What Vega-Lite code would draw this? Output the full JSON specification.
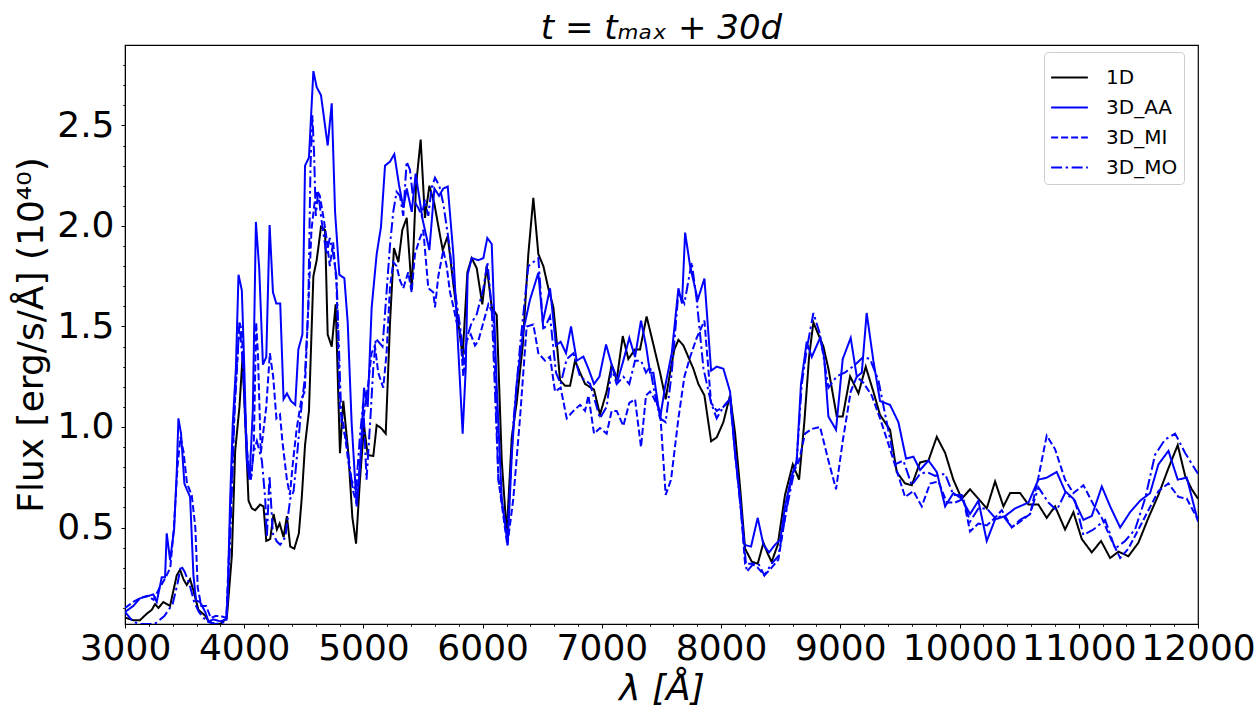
{
"$schema":"https://vega.github.io/schema/vega-lite/v6.json",
"width":1073,"height":579,
"autosize":{"type":"none"},
"padding":{"left":125,"top":45,"right":57,"bottom":83},
"background":"white",
"config":{"font":"DejaVu Sans","view":{"stroke":"black","strokeWidth":1.2}},
"title":{"text":"t = tₘₐₓ + 30d","fontSize":34,"fontStyle":"italic","fontWeight":"normal","baseline":"alphabetic","offset":0,"dy":28,"color":"black","font":"DejaVu Sans"},
"data":{"values":[
{"m":"1D","w":3000,"f":0.052},{"m":"1D","w":3070,"f":0.039},{"m":"1D","w":3126,"f":0.039},{"m":"1D","w":3182,"f":0.071},{"m":"1D","w":3224,"f":0.09},{"m":"1D","w":3252,"f":0.119},{"m":"1D","w":3280,"f":0.1},{"m":"1D","w":3322,"f":0.129},{"m":"1D","w":3378,"f":0.11},{"m":"1D","w":3406,"f":0.186},{"m":"1D","w":3434,"f":0.262},{"m":"1D","w":3462,"f":0.29},{"m":"1D","w":3490,"f":0.243},{"m":"1D","w":3518,"f":0.214},{"m":"1D","w":3546,"f":0.243},{"m":"1D","w":3574,"f":0.186},{"m":"1D","w":3616,"f":0.09},{"m":"1D","w":3672,"f":0.062},{"m":"1D","w":3700,"f":0.033},{"m":"1D","w":3750,"f":0.02},{"m":"1D","w":3800,"f":0.02},{"m":"1D","w":3854,"f":0.05},{"m":"1D","w":3896,"f":0.357},{"m":"1D","w":3924,"f":0.88},{"m":"1D","w":3960,"f":1.1},{"m":"1D","w":3986,"f":1.35},{"m":"1D","w":4036,"f":0.633},{"m":"1D","w":4064,"f":0.595},{"m":"1D","w":4092,"f":0.586},{"m":"1D","w":4134,"f":0.614},{"m":"1D","w":4162,"f":0.605},{"m":"1D","w":4185,"f":0.433},{"m":"1D","w":4218,"f":0.443},{"m":"1D","w":4246,"f":0.567},{"m":"1D","w":4274,"f":0.49},{"m":"1D","w":4297,"f":0.52},{"m":"1D","w":4330,"f":0.452},{"m":"1D","w":4358,"f":0.557},{"m":"1D","w":4386,"f":0.405},{"m":"1D","w":4420,"f":0.395},{"m":"1D","w":4458,"f":0.47},{"m":"1D","w":4482,"f":0.643},{"m":"1D","w":4510,"f":0.91},{"m":"1D","w":4543,"f":1.08},{"m":"1D","w":4580,"f":1.75},{"m":"1D","w":4608,"f":1.83},{"m":"1D","w":4644,"f":1.995},{"m":"1D","w":4678,"f":1.98},{"m":"1D","w":4700,"f":1.46},{"m":"1D","w":4734,"f":1.4},{"m":"1D","w":4767,"f":1.61},{"m":"1D","w":4803,"f":0.87},{"m":"1D","w":4831,"f":1.13},{"m":"1D","w":4873,"f":0.87},{"m":"1D","w":4907,"f":0.55},{"m":"1D","w":4938,"f":0.42},{"m":"1D","w":4971,"f":0.74},{"m":"1D","w":5005,"f":1.005},{"m":"1D","w":5036,"f":0.86},{"m":"1D","w":5083,"f":0.856},{"m":"1D","w":5111,"f":1.01},{"m":"1D","w":5147,"f":0.995},{"m":"1D","w":5187,"f":0.967},{"m":"1D","w":5223,"f":1.52},{"m":"1D","w":5256,"f":1.89},{"m":"1D","w":5293,"f":1.82},{"m":"1D","w":5326,"f":1.98},{"m":"1D","w":5363,"f":2.04},{"m":"1D","w":5405,"f":1.68},{"m":"1D","w":5441,"f":2.2},{"m":"1D","w":5480,"f":2.43},{"m":"1D","w":5516,"f":2.04},{"m":"1D","w":5553,"f":2.2},{"m":"1D","w":5595,"f":2.11},{"m":"1D","w":5628,"f":2.0},{"m":"1D","w":5665,"f":1.88},{"m":"1D","w":5707,"f":1.95},{"m":"1D","w":5754,"f":1.71},{"m":"1D","w":5804,"f":1.48},{"m":"1D","w":5832,"f":1.35},{"m":"1D","w":5872,"f":1.77},{"m":"1D","w":5908,"f":1.84},{"m":"1D","w":5950,"f":1.79},{"m":"1D","w":5997,"f":1.61},{"m":"1D","w":6034,"f":1.8},{"m":"1D","w":6076,"f":1.595},{"m":"1D","w":6118,"f":1.557},{"m":"1D","w":6160,"f":0.833},{"m":"1D","w":6202,"f":0.471},{"m":"1D","w":6244,"f":0.948},{"m":"1D","w":6285,"f":1.12},{"m":"1D","w":6336,"f":1.405},{"m":"1D","w":6383,"f":1.86},{"m":"1D","w":6425,"f":2.14},{"m":"1D","w":6467,"f":1.86},{"m":"1D","w":6509,"f":1.8},{"m":"1D","w":6551,"f":1.69},{"m":"1D","w":6593,"f":1.595},{"m":"1D","w":6621,"f":1.424},{"m":"1D","w":6649,"f":1.233},{"m":"1D","w":6691,"f":1.205},{"m":"1D","w":6733,"f":1.205},{"m":"1D","w":6775,"f":1.33},{"m":"1D","w":6817,"f":1.27},{"m":"1D","w":6859,"f":1.214},{"m":"1D","w":6934,"f":1.186},{"m":"1D","w":6984,"f":1.062},{"m":"1D","w":7040,"f":1.176},{"m":"1D","w":7082,"f":1.31},{"m":"1D","w":7124,"f":1.233},{"m":"1D","w":7175,"f":1.452},{"m":"1D","w":7222,"f":1.338},{"m":"1D","w":7278,"f":1.386},{"m":"1D","w":7320,"f":1.386},{"m":"1D","w":7375,"f":1.55},{"m":"1D","w":7432,"f":1.41},{"m":"1D","w":7488,"f":1.27},{"m":"1D","w":7535,"f":1.138},{"m":"1D","w":7572,"f":1.27},{"m":"1D","w":7608,"f":1.386},{"m":"1D","w":7642,"f":1.433},{"m":"1D","w":7684,"f":1.405},{"m":"1D","w":7725,"f":1.348},{"m":"1D","w":7767,"f":1.29},{"m":"1D","w":7809,"f":1.214},{"m":"1D","w":7860,"f":1.157},{"m":"1D","w":7916,"f":0.929},{"m":"1D","w":7963,"f":0.948},{"m":"1D","w":8019,"f":1.024},{"m":"1D","w":8075,"f":1.157},{"m":"1D","w":8117,"f":0.97},{"m":"1D","w":8159,"f":0.7},{"m":"1D","w":8201,"f":0.395},{"m":"1D","w":8257,"f":0.33},{"m":"1D","w":8307,"f":0.32},{"m":"1D","w":8355,"f":0.424},{"m":"1D","w":8391,"f":0.37},{"m":"1D","w":8424,"f":0.329},{"m":"1D","w":8475,"f":0.414},{"m":"1D","w":8536,"f":0.662},{"m":"1D","w":8601,"f":0.814},{"m":"1D","w":8654,"f":0.738},{"m":"1D","w":8698,"f":1.024},{"m":"1D","w":8738,"f":1.35},{"m":"1D","w":8774,"f":1.52},{"m":"1D","w":8816,"f":1.46},{"m":"1D","w":8858,"f":1.4},{"m":"1D","w":8900,"f":1.29},{"m":"1D","w":8970,"f":1.052},{"m":"1D","w":9020,"f":1.052},{"m":"1D","w":9082,"f":1.252},{"m":"1D","w":9152,"f":1.167},{"m":"1D","w":9213,"f":1.3},{"m":"1D","w":9277,"f":1.176},{"m":"1D","w":9333,"f":1.06},{"m":"1D","w":9417,"f":0.986},{"m":"1D","w":9473,"f":0.776},{"m":"1D","w":9543,"f":0.719},{"m":"1D","w":9599,"f":0.71},{"m":"1D","w":9669,"f":0.824},{"m":"1D","w":9739,"f":0.833},{"m":"1D","w":9809,"f":0.951},{"m":"1D","w":9879,"f":0.871},{"m":"1D","w":9948,"f":0.738},{"m":"1D","w":10018,"f":0.643},{"m":"1D","w":10088,"f":0.69},{"m":"1D","w":10158,"f":0.643},{"m":"1D","w":10228,"f":0.595},{"m":"1D","w":10298,"f":0.729},{"m":"1D","w":10368,"f":0.605},{"m":"1D","w":10424,"f":0.671},{"m":"1D","w":10508,"f":0.671},{"m":"1D","w":10578,"f":0.614},{"m":"1D","w":10661,"f":0.614},{"m":"1D","w":10731,"f":0.548},{"m":"1D","w":10801,"f":0.605},{"m":"1D","w":10885,"f":0.49},{"m":"1D","w":10955,"f":0.576},{"m":"1D","w":11025,"f":0.443},{"m":"1D","w":11109,"f":0.376},{"m":"1D","w":11187,"f":0.433},{"m":"1D","w":11263,"f":0.348},{"m":"1D","w":11333,"f":0.38},{"m":"1D","w":11416,"f":0.357},{"m":"1D","w":11500,"f":0.424},{"m":"1D","w":11584,"f":0.548},{"m":"1D","w":11668,"f":0.662},{"m":"1D","w":11752,"f":0.795},{"m":"1D","w":11830,"f":0.91},{"m":"1D","w":11892,"f":0.757},{"m":"1D","w":11948,"f":0.69},{"m":"1D","w":12000,"f":0.643},
{"m":"3D_AA","w":3000,"f":0.08},{"m":"3D_AA","w":3070,"f":0.11},{"m":"3D_AA","w":3126,"f":0.148},{"m":"3D_AA","w":3182,"f":0.157},{"m":"3D_AA","w":3238,"f":0.167},{"m":"3D_AA","w":3266,"f":0.129},{"m":"3D_AA","w":3308,"f":0.252},{"m":"3D_AA","w":3336,"f":0.252},{"m":"3D_AA","w":3350,"f":0.471},{"m":"3D_AA","w":3378,"f":0.338},{"m":"3D_AA","w":3412,"f":0.49},{"m":"3D_AA","w":3434,"f":0.776},{"m":"3D_AA","w":3448,"f":1.043},{"m":"3D_AA","w":3470,"f":0.967},{"m":"3D_AA","w":3498,"f":0.719},{"m":"3D_AA","w":3518,"f":0.69},{"m":"3D_AA","w":3546,"f":0.652},{"m":"3D_AA","w":3574,"f":0.262},{"m":"3D_AA","w":3596,"f":0.138},{"m":"3D_AA","w":3630,"f":0.129},{"m":"3D_AA","w":3672,"f":0.081},{"m":"3D_AA","w":3700,"f":0.033},{"m":"3D_AA","w":3742,"f":0.043},{"m":"3D_AA","w":3798,"f":0.033},{"m":"3D_AA","w":3848,"f":0.043},{"m":"3D_AA","w":3860,"f":0.13},{"m":"3D_AA","w":3882,"f":0.64},{"m":"3D_AA","w":3904,"f":1.02},{"m":"3D_AA","w":3930,"f":1.29},{"m":"3D_AA","w":3952,"f":1.757},{"m":"3D_AA","w":3980,"f":1.68},{"m":"3D_AA","w":4000,"f":1.31},{"m":"3D_AA","w":4022,"f":0.833},{"m":"3D_AA","w":4044,"f":0.738},{"m":"3D_AA","w":4072,"f":1.08},{"m":"3D_AA","w":4098,"f":2.02},{"m":"3D_AA","w":4126,"f":1.786},{"m":"3D_AA","w":4157,"f":1.31},{"m":"3D_AA","w":4185,"f":1.348},{"m":"3D_AA","w":4213,"f":2.005},{"m":"3D_AA","w":4241,"f":1.67},{"m":"3D_AA","w":4269,"f":1.614},{"m":"3D_AA","w":4302,"f":1.614},{"m":"3D_AA","w":4330,"f":1.138},{"m":"3D_AA","w":4358,"f":1.167},{"m":"3D_AA","w":4392,"f":1.129},{"m":"3D_AA","w":4428,"f":1.11},{"m":"3D_AA","w":4454,"f":1.386},{"m":"3D_AA","w":4488,"f":1.46},{"m":"3D_AA","w":4510,"f":2.3},{"m":"3D_AA","w":4543,"f":2.34},{"m":"3D_AA","w":4580,"f":2.77},{"m":"3D_AA","w":4608,"f":2.69},{"m":"3D_AA","w":4644,"f":2.65},{"m":"3D_AA","w":4700,"f":2.4},{"m":"3D_AA","w":4734,"f":2.61},{"m":"3D_AA","w":4762,"f":2.07},{"m":"3D_AA","w":4798,"f":1.757},{"m":"3D_AA","w":4840,"f":1.74},{"m":"3D_AA","w":4868,"f":1.52},{"m":"3D_AA","w":4901,"f":1.02},{"m":"3D_AA","w":4943,"f":0.605},{"m":"3D_AA","w":4971,"f":0.795},{"m":"3D_AA","w":5005,"f":1.195},{"m":"3D_AA","w":5036,"f":1.1},{"m":"3D_AA","w":5069,"f":1.595},{"m":"3D_AA","w":5111,"f":1.86},{"m":"3D_AA","w":5147,"f":1.995},{"m":"3D_AA","w":5181,"f":2.3},{"m":"3D_AA","w":5223,"f":2.32},{"m":"3D_AA","w":5259,"f":2.357},{"m":"3D_AA","w":5298,"f":2.205},{"m":"3D_AA","w":5335,"f":2.09},{"m":"3D_AA","w":5363,"f":2.186},{"m":"3D_AA","w":5405,"f":2.07},{"m":"3D_AA","w":5438,"f":2.26},{"m":"3D_AA","w":5497,"f":2.03},{"m":"3D_AA","w":5553,"f":1.88},{"m":"3D_AA","w":5595,"f":2.186},{"m":"3D_AA","w":5634,"f":2.15},{"m":"3D_AA","w":5670,"f":2.186},{"m":"3D_AA","w":5707,"f":2.196},{"m":"3D_AA","w":5754,"f":1.86},{"m":"3D_AA","w":5832,"f":0.967},{"m":"3D_AA","w":5858,"f":1.29},{"m":"3D_AA","w":5874,"f":1.757},{"m":"3D_AA","w":5908,"f":1.84},{"m":"3D_AA","w":5964,"f":1.83},{"m":"3D_AA","w":6006,"f":1.84},{"m":"3D_AA","w":6039,"f":1.94},{"m":"3D_AA","w":6076,"f":1.91},{"m":"3D_AA","w":6118,"f":1.2},{"m":"3D_AA","w":6160,"f":0.643},{"m":"3D_AA","w":6210,"f":0.414},{"m":"3D_AA","w":6244,"f":0.86},{"m":"3D_AA","w":6285,"f":1.214},{"m":"3D_AA","w":6341,"f":1.48},{"m":"3D_AA","w":6397,"f":1.633},{"m":"3D_AA","w":6467,"f":1.767},{"m":"3D_AA","w":6504,"f":1.52},{"m":"3D_AA","w":6565,"f":1.69},{"m":"3D_AA","w":6615,"f":1.405},{"m":"3D_AA","w":6654,"f":1.424},{"m":"3D_AA","w":6699,"f":1.367},{"m":"3D_AA","w":6741,"f":1.5},{"m":"3D_AA","w":6789,"f":1.33},{"m":"3D_AA","w":6845,"f":1.35},{"m":"3D_AA","w":6887,"f":1.29},{"m":"3D_AA","w":6934,"f":1.214},{"m":"3D_AA","w":6979,"f":1.25},{"m":"3D_AA","w":7035,"f":1.41},{"m":"3D_AA","w":7082,"f":1.31},{"m":"3D_AA","w":7133,"f":1.233},{"m":"3D_AA","w":7180,"f":1.33},{"m":"3D_AA","w":7230,"f":1.443},{"m":"3D_AA","w":7278,"f":1.348},{"m":"3D_AA","w":7328,"f":1.529},{"m":"3D_AA","w":7370,"f":1.405},{"m":"3D_AA","w":7404,"f":1.27},{"m":"3D_AA","w":7432,"f":1.27},{"m":"3D_AA","w":7488,"f":1.043},{"m":"3D_AA","w":7530,"f":1.2},{"m":"3D_AA","w":7586,"f":1.367},{"m":"3D_AA","w":7642,"f":1.69},{"m":"3D_AA","w":7672,"f":1.614},{"m":"3D_AA","w":7698,"f":1.967},{"m":"3D_AA","w":7740,"f":1.8},{"m":"3D_AA","w":7804,"f":1.633},{"m":"3D_AA","w":7860,"f":1.738},{"m":"3D_AA","w":7916,"f":1.28},{"m":"3D_AA","w":7963,"f":1.3},{"m":"3D_AA","w":8019,"f":1.29},{"m":"3D_AA","w":8075,"f":1.176},{"m":"3D_AA","w":8117,"f":0.871},{"m":"3D_AA","w":8159,"f":0.64},{"m":"3D_AA","w":8195,"f":0.414},{"m":"3D_AA","w":8251,"f":0.405},{"m":"3D_AA","w":8307,"f":0.548},{"m":"3D_AA","w":8355,"f":0.414},{"m":"3D_AA","w":8402,"f":0.376},{"m":"3D_AA","w":8452,"f":0.414},{"m":"3D_AA","w":8497,"f":0.44},{"m":"3D_AA","w":8536,"f":0.605},{"m":"3D_AA","w":8592,"f":0.757},{"m":"3D_AA","w":8634,"f":0.83},{"m":"3D_AA","w":8670,"f":1.214},{"m":"3D_AA","w":8718,"f":1.424},{"m":"3D_AA","w":8760,"f":1.348},{"m":"3D_AA","w":8830,"f":1.443},{"m":"3D_AA","w":8864,"f":1.348},{"m":"3D_AA","w":8900,"f":1.052},{"m":"3D_AA","w":8964,"f":0.986},{"m":"3D_AA","w":9020,"f":1.338},{"m":"3D_AA","w":9087,"f":1.443},{"m":"3D_AA","w":9138,"f":1.25},{"m":"3D_AA","w":9180,"f":1.27},{"m":"3D_AA","w":9221,"f":1.567},{"m":"3D_AA","w":9277,"f":1.33},{"m":"3D_AA","w":9333,"f":1.129},{"m":"3D_AA","w":9417,"f":1.11},{"m":"3D_AA","w":9487,"f":1.024},{"m":"3D_AA","w":9551,"f":0.843},{"m":"3D_AA","w":9613,"f":0.852},{"m":"3D_AA","w":9669,"f":0.786},{"m":"3D_AA","w":9739,"f":0.833},{"m":"3D_AA","w":9809,"f":0.776},{"m":"3D_AA","w":9879,"f":0.605},{"m":"3D_AA","w":9948,"f":0.671},{"m":"3D_AA","w":10018,"f":0.643},{"m":"3D_AA","w":10088,"f":0.567},{"m":"3D_AA","w":10158,"f":0.633},{"m":"3D_AA","w":10228,"f":0.433},{"m":"3D_AA","w":10298,"f":0.54},{"m":"3D_AA","w":10382,"f":0.557},{"m":"3D_AA","w":10466,"f":0.595},{"m":"3D_AA","w":10578,"f":0.624},{"m":"3D_AA","w":10661,"f":0.738},{"m":"3D_AA","w":10731,"f":0.748},{"m":"3D_AA","w":10815,"f":0.776},{"m":"3D_AA","w":10885,"f":0.681},{"m":"3D_AA","w":10955,"f":0.643},{"m":"3D_AA","w":11039,"f":0.538},{"m":"3D_AA","w":11109,"f":0.557},{"m":"3D_AA","w":11193,"f":0.704},{"m":"3D_AA","w":11263,"f":0.605},{"m":"3D_AA","w":11347,"f":0.5},{"m":"3D_AA","w":11430,"f":0.576},{"m":"3D_AA","w":11514,"f":0.633},{"m":"3D_AA","w":11598,"f":0.671},{"m":"3D_AA","w":11668,"f":0.814},{"m":"3D_AA","w":11752,"f":0.881},{"m":"3D_AA","w":11830,"f":0.738},{"m":"3D_AA","w":11906,"f":0.748},{"m":"3D_AA","w":12000,"f":0.529},
{"m":"3D_MI","w":3000,"f":0.1},{"m":"3D_MI","w":3070,"f":0.13},{"m":"3D_MI","w":3130,"f":0.15},{"m":"3D_MI","w":3190,"f":0.16},{"m":"3D_MI","w":3240,"f":0.14},{"m":"3D_MI","w":3290,"f":0.2},{"m":"3D_MI","w":3340,"f":0.25},{"m":"3D_MI","w":3380,"f":0.3},{"m":"3D_MI","w":3410,"f":0.5},{"m":"3D_MI","w":3440,"f":0.8},{"m":"3D_MI","w":3465,"f":0.95},{"m":"3D_MI","w":3490,"f":0.88},{"m":"3D_MI","w":3520,"f":0.72},{"m":"3D_MI","w":3560,"f":0.66},{"m":"3D_MI","w":3590,"f":0.5},{"m":"3D_MI","w":3610,"f":0.2},{"m":"3D_MI","w":3640,"f":0.11},{"m":"3D_MI","w":3680,"f":0.11},{"m":"3D_MI","w":3720,"f":0.05},{"m":"3D_MI","w":3760,"f":0.06},{"m":"3D_MI","w":3800,"f":0.06},{"m":"3D_MI","w":3850,"f":0.05},{"m":"3D_MI","w":3880,"f":0.5},{"m":"3D_MI","w":3920,"f":1.1},{"m":"3D_MI","w":3960,"f":1.52},{"m":"3D_MI","w":3980,"f":1.48},{"m":"3D_MI","w":4010,"f":1.0},{"m":"3D_MI","w":4036,"f":0.795},{"m":"3D_MI","w":4060,"f":0.757},{"m":"3D_MI","w":4080,"f":0.9},{"m":"3D_MI","w":4100,"f":1.52},{"m":"3D_MI","w":4115,"f":1.367},{"m":"3D_MI","w":4139,"f":0.87},{"m":"3D_MI","w":4185,"f":1.1},{"m":"3D_MI","w":4215,"f":1.367},{"m":"3D_MI","w":4243,"f":1.25},{"m":"3D_MI","w":4270,"f":1.043},{"m":"3D_MI","w":4300,"f":1.062},{"m":"3D_MI","w":4320,"f":0.93},{"m":"3D_MI","w":4358,"f":0.738},{"m":"3D_MI","w":4383,"f":0.662},{"m":"3D_MI","w":4410,"f":0.833},{"m":"3D_MI","w":4439,"f":0.986},{"m":"3D_MI","w":4480,"f":1.14},{"m":"3D_MI","w":4508,"f":1.176},{"m":"3D_MI","w":4537,"f":1.595},{"m":"3D_MI","w":4564,"f":1.98},{"m":"3D_MI","w":4593,"f":2.13},{"m":"3D_MI","w":4612,"f":2.176},{"m":"3D_MI","w":4634,"f":2.15},{"m":"3D_MI","w":4668,"f":2.03},{"m":"3D_MI","w":4690,"f":1.94},{"m":"3D_MI","w":4718,"f":1.8},{"m":"3D_MI","w":4746,"f":1.92},{"m":"3D_MI","w":4774,"f":1.71},{"m":"3D_MI","w":4802,"f":1.1},{"m":"3D_MI","w":4830,"f":1.024},{"m":"3D_MI","w":4872,"f":0.833},{"m":"3D_MI","w":4914,"f":0.68},{"m":"3D_MI","w":4942,"f":0.62},{"m":"3D_MI","w":4970,"f":0.814},{"m":"3D_MI","w":5004,"f":1.062},{"m":"3D_MI","w":5040,"f":1.214},{"m":"3D_MI","w":5068,"f":1.367},{"m":"3D_MI","w":5096,"f":1.405},{"m":"3D_MI","w":5124,"f":1.27},{"m":"3D_MI","w":5166,"f":1.195},{"m":"3D_MI","w":5194,"f":1.367},{"m":"3D_MI","w":5222,"f":1.69},{"m":"3D_MI","w":5250,"f":1.82},{"m":"3D_MI","w":5278,"f":1.8},{"m":"3D_MI","w":5306,"f":1.73},{"m":"3D_MI","w":5334,"f":1.69},{"m":"3D_MI","w":5376,"f":1.77},{"m":"3D_MI","w":5404,"f":1.67},{"m":"3D_MI","w":5432,"f":1.86},{"m":"3D_MI","w":5474,"f":1.94},{"m":"3D_MI","w":5502,"f":1.98},{"m":"3D_MI","w":5544,"f":1.69},{"m":"3D_MI","w":5586,"f":1.67},{"m":"3D_MI","w":5600,"f":1.595},{"m":"3D_MI","w":5628,"f":1.75},{"m":"3D_MI","w":5670,"f":1.88},{"m":"3D_MI","w":5698,"f":1.8},{"m":"3D_MI","w":5726,"f":1.67},{"m":"3D_MI","w":5754,"f":1.6},{"m":"3D_MI","w":5782,"f":1.52},{"m":"3D_MI","w":5810,"f":1.48},{"m":"3D_MI","w":5838,"f":1.25},{"m":"3D_MI","w":5866,"f":1.43},{"m":"3D_MI","w":5900,"f":1.46},{"m":"3D_MI","w":5936,"f":1.405},{"m":"3D_MI","w":5964,"f":1.43},{"m":"3D_MI","w":6006,"f":1.52},{"m":"3D_MI","w":6048,"f":1.61},{"m":"3D_MI","w":6090,"f":1.56},{"m":"3D_MI","w":6132,"f":0.738},{"m":"3D_MI","w":6207,"f":0.41},{"m":"3D_MI","w":6257,"f":0.643},{"m":"3D_MI","w":6313,"f":1.043},{"m":"3D_MI","w":6369,"f":1.5},{"m":"3D_MI","w":6425,"f":1.51},{"m":"3D_MI","w":6467,"f":1.367},{"m":"3D_MI","w":6523,"f":1.33},{"m":"3D_MI","w":6565,"f":1.35},{"m":"3D_MI","w":6607,"f":1.176},{"m":"3D_MI","w":6654,"f":1.195},{"m":"3D_MI","w":6705,"f":1.043},{"m":"3D_MI","w":6761,"f":1.08},{"m":"3D_MI","w":6817,"f":1.11},{"m":"3D_MI","w":6859,"f":1.08},{"m":"3D_MI","w":6887,"f":1.157},{"m":"3D_MI","w":6934,"f":0.967},{"m":"3D_MI","w":6984,"f":0.995},{"m":"3D_MI","w":7040,"f":0.967},{"m":"3D_MI","w":7082,"f":1.08},{"m":"3D_MI","w":7124,"f":1.08},{"m":"3D_MI","w":7180,"f":1.005},{"m":"3D_MI","w":7230,"f":1.12},{"m":"3D_MI","w":7278,"f":1.138},{"m":"3D_MI","w":7328,"f":0.9},{"m":"3D_MI","w":7370,"f":1.157},{"m":"3D_MI","w":7404,"f":1.176},{"m":"3D_MI","w":7432,"f":1.148},{"m":"3D_MI","w":7488,"f":1.08},{"m":"3D_MI","w":7535,"f":0.662},{"m":"3D_MI","w":7580,"f":0.738},{"m":"3D_MI","w":7642,"f":1.043},{"m":"3D_MI","w":7692,"f":1.25},{"m":"3D_MI","w":7740,"f":1.348},{"m":"3D_MI","w":7795,"f":1.443},{"m":"3D_MI","w":7860,"f":1.529},{"m":"3D_MI","w":7916,"f":1.12},{"m":"3D_MI","w":7963,"f":1.08},{"m":"3D_MI","w":8019,"f":1.1},{"m":"3D_MI","w":8075,"f":1.14},{"m":"3D_MI","w":8117,"f":0.871},{"m":"3D_MI","w":8159,"f":0.64},{"m":"3D_MI","w":8201,"f":0.32},{"m":"3D_MI","w":8257,"f":0.32},{"m":"3D_MI","w":8307,"f":0.3},{"m":"3D_MI","w":8363,"f":0.262},{"m":"3D_MI","w":8424,"f":0.3},{"m":"3D_MI","w":8480,"f":0.34},{"m":"3D_MI","w":8536,"f":0.548},{"m":"3D_MI","w":8592,"f":0.757},{"m":"3D_MI","w":8654,"f":0.833},{"m":"3D_MI","w":8704,"f":0.967},{"m":"3D_MI","w":8760,"f":0.99},{"m":"3D_MI","w":8830,"f":1.0},{"m":"3D_MI","w":8900,"f":0.833},{"m":"3D_MI","w":8964,"f":0.69},{"m":"3D_MI","w":9020,"f":0.929},{"m":"3D_MI","w":9087,"f":1.176},{"m":"3D_MI","w":9138,"f":1.25},{"m":"3D_MI","w":9193,"f":1.22},{"m":"3D_MI","w":9263,"f":1.157},{"m":"3D_MI","w":9333,"f":1.043},{"m":"3D_MI","w":9417,"f":0.89},{"m":"3D_MI","w":9487,"f":0.757},{"m":"3D_MI","w":9543,"f":0.652},{"m":"3D_MI","w":9613,"f":0.681},{"m":"3D_MI","w":9683,"f":0.605},{"m":"3D_MI","w":9753,"f":0.719},{"m":"3D_MI","w":9823,"f":0.729},{"m":"3D_MI","w":9893,"f":0.624},{"m":"3D_MI","w":9963,"f":0.624},{"m":"3D_MI","w":10032,"f":0.643},{"m":"3D_MI","w":10088,"f":0.48},{"m":"3D_MI","w":10158,"f":0.52},{"m":"3D_MI","w":10228,"f":0.51},{"m":"3D_MI","w":10298,"f":0.548},{"m":"3D_MI","w":10354,"f":0.586},{"m":"3D_MI","w":10438,"f":0.5},{"m":"3D_MI","w":10508,"f":0.529},{"m":"3D_MI","w":10592,"f":0.567},{"m":"3D_MI","w":10661,"f":0.748},{"m":"3D_MI","w":10731,"f":0.957},{"m":"3D_MI","w":10801,"f":0.89},{"m":"3D_MI","w":10885,"f":0.738},{"m":"3D_MI","w":10955,"f":0.671},{"m":"3D_MI","w":11039,"f":0.71},{"m":"3D_MI","w":11123,"f":0.614},{"m":"3D_MI","w":11193,"f":0.548},{"m":"3D_MI","w":11263,"f":0.452},{"m":"3D_MI","w":11347,"f":0.348},{"m":"3D_MI","w":11416,"f":0.395},{"m":"3D_MI","w":11500,"f":0.49},{"m":"3D_MI","w":11584,"f":0.586},{"m":"3D_MI","w":11668,"f":0.681},{"m":"3D_MI","w":11752,"f":0.719},{"m":"3D_MI","w":11836,"f":0.652},{"m":"3D_MI","w":11906,"f":0.643},{"m":"3D_MI","w":12000,"f":0.538},
{"m":"3D_MO","w":3000,"f":0.08},{"m":"3D_MO","w":3070,"f":0.03},{"m":"3D_MO","w":3130,"f":0.02},{"m":"3D_MO","w":3250,"f":0.02},{"m":"3D_MO","w":3330,"f":0.06},{"m":"3D_MO","w":3400,"f":0.12},{"m":"3D_MO","w":3440,"f":0.22},{"m":"3D_MO","w":3470,"f":0.31},{"m":"3D_MO","w":3500,"f":0.28},{"m":"3D_MO","w":3540,"f":0.22},{"m":"3D_MO","w":3580,"f":0.13},{"m":"3D_MO","w":3620,"f":0.08},{"m":"3D_MO","w":3660,"f":0.05},{"m":"3D_MO","w":3700,"f":0.03},{"m":"3D_MO","w":3760,"f":0.02},{"m":"3D_MO","w":3850,"f":0.03},{"m":"3D_MO","w":3880,"f":0.4},{"m":"3D_MO","w":3920,"f":1.1},{"m":"3D_MO","w":3960,"f":1.52},{"m":"3D_MO","w":3990,"f":1.3},{"m":"3D_MO","w":4028,"f":0.833},{"m":"3D_MO","w":4056,"f":0.738},{"m":"3D_MO","w":4078,"f":0.871},{"m":"3D_MO","w":4106,"f":0.93},{"m":"3D_MO","w":4148,"f":0.833},{"m":"3D_MO","w":4176,"f":0.643},{"m":"3D_MO","w":4190,"f":0.45},{"m":"3D_MO","w":4212,"f":0.757},{"m":"3D_MO","w":4240,"f":0.47},{"m":"3D_MO","w":4274,"f":0.43},{"m":"3D_MO","w":4302,"f":0.414},{"m":"3D_MO","w":4344,"f":0.452},{"m":"3D_MO","w":4386,"f":0.643},{"m":"3D_MO","w":4414,"f":0.68},{"m":"3D_MO","w":4439,"f":0.833},{"m":"3D_MO","w":4480,"f":1.1},{"m":"3D_MO","w":4508,"f":1.24},{"m":"3D_MO","w":4537,"f":1.59},{"m":"3D_MO","w":4556,"f":2.3},{"m":"3D_MO","w":4572,"f":2.55},{"m":"3D_MO","w":4586,"f":2.36},{"m":"3D_MO","w":4600,"f":2.05},{"m":"3D_MO","w":4620,"f":2.17},{"m":"3D_MO","w":4648,"f":2.03},{"m":"3D_MO","w":4690,"f":1.86},{"m":"3D_MO","w":4718,"f":1.94},{"m":"3D_MO","w":4746,"f":1.86},{"m":"3D_MO","w":4774,"f":1.75},{"m":"3D_MO","w":4816,"f":1.02},{"m":"3D_MO","w":4858,"f":0.93},{"m":"3D_MO","w":4900,"f":0.738},{"m":"3D_MO","w":4937,"f":0.68},{"m":"3D_MO","w":4970,"f":0.95},{"m":"3D_MO","w":4998,"f":1.12},{"m":"3D_MO","w":5026,"f":0.738},{"m":"3D_MO","w":5060,"f":1.06},{"m":"3D_MO","w":5082,"f":1.29},{"m":"3D_MO","w":5104,"f":1.44},{"m":"3D_MO","w":5132,"f":1.42},{"m":"3D_MO","w":5160,"f":1.4},{"m":"3D_MO","w":5194,"f":1.67},{"m":"3D_MO","w":5222,"f":1.9},{"m":"3D_MO","w":5250,"f":2.07},{"m":"3D_MO","w":5278,"f":2.17},{"m":"3D_MO","w":5306,"f":2.15},{"m":"3D_MO","w":5334,"f":2.05},{"m":"3D_MO","w":5362,"f":2.32},{"m":"3D_MO","w":5390,"f":2.28},{"m":"3D_MO","w":5418,"f":2.13},{"m":"3D_MO","w":5460,"f":2.09},{"m":"3D_MO","w":5488,"f":2.05},{"m":"3D_MO","w":5516,"f":2.13},{"m":"3D_MO","w":5544,"f":2.05},{"m":"3D_MO","w":5572,"f":2.19},{"m":"3D_MO","w":5600,"f":2.24},{"m":"3D_MO","w":5636,"f":2.2},{"m":"3D_MO","w":5670,"f":2.11},{"m":"3D_MO","w":5712,"f":1.94},{"m":"3D_MO","w":5754,"f":1.73},{"m":"3D_MO","w":5796,"f":1.56},{"m":"3D_MO","w":5824,"f":1.44},{"m":"3D_MO","w":5838,"f":1.31},{"m":"3D_MO","w":5866,"f":1.44},{"m":"3D_MO","w":5908,"f":1.52},{"m":"3D_MO","w":5950,"f":1.56},{"m":"3D_MO","w":6006,"f":1.69},{"m":"3D_MO","w":6040,"f":1.82},{"m":"3D_MO","w":6076,"f":1.59},{"m":"3D_MO","w":6132,"f":0.74},{"m":"3D_MO","w":6207,"f":0.45},{"m":"3D_MO","w":6257,"f":1.02},{"m":"3D_MO","w":6313,"f":1.4},{"m":"3D_MO","w":6383,"f":1.8},{"m":"3D_MO","w":6467,"f":1.84},{"m":"3D_MO","w":6509,"f":1.48},{"m":"3D_MO","w":6565,"f":1.55},{"m":"3D_MO","w":6615,"f":1.27},{"m":"3D_MO","w":6654,"f":1.214},{"m":"3D_MO","w":6705,"f":1.338},{"m":"3D_MO","w":6761,"f":1.367},{"m":"3D_MO","w":6817,"f":1.25},{"m":"3D_MO","w":6859,"f":1.233},{"m":"3D_MO","w":6901,"f":1.214},{"m":"3D_MO","w":6984,"f":1.043},{"m":"3D_MO","w":7040,"f":1.1},{"m":"3D_MO","w":7082,"f":1.29},{"m":"3D_MO","w":7124,"f":1.214},{"m":"3D_MO","w":7180,"f":1.25},{"m":"3D_MO","w":7230,"f":1.214},{"m":"3D_MO","w":7278,"f":1.33},{"m":"3D_MO","w":7328,"f":1.33},{"m":"3D_MO","w":7370,"f":1.27},{"m":"3D_MO","w":7404,"f":1.3},{"m":"3D_MO","w":7432,"f":1.2},{"m":"3D_MO","w":7488,"f":1.043},{"m":"3D_MO","w":7535,"f":1.024},{"m":"3D_MO","w":7586,"f":1.27},{"m":"3D_MO","w":7642,"f":1.67},{"m":"3D_MO","w":7692,"f":1.614},{"m":"3D_MO","w":7753,"f":1.82},{"m":"3D_MO","w":7795,"f":1.633},{"m":"3D_MO","w":7852,"f":1.29},{"m":"3D_MO","w":7916,"f":1.12},{"m":"3D_MO","w":7963,"f":1.043},{"m":"3D_MO","w":8019,"f":1.1},{"m":"3D_MO","w":8075,"f":1.14},{"m":"3D_MO","w":8117,"f":0.871},{"m":"3D_MO","w":8172,"f":0.548},{"m":"3D_MO","w":8215,"f":0.28},{"m":"3D_MO","w":8271,"f":0.32},{"m":"3D_MO","w":8313,"f":0.32},{"m":"3D_MO","w":8363,"f":0.262},{"m":"3D_MO","w":8424,"f":0.32},{"m":"3D_MO","w":8480,"f":0.357},{"m":"3D_MO","w":8536,"f":0.548},{"m":"3D_MO","w":8592,"f":0.719},{"m":"3D_MO","w":8634,"f":0.833},{"m":"3D_MO","w":8676,"f":1.21},{"m":"3D_MO","w":8718,"f":1.386},{"m":"3D_MO","w":8774,"f":1.567},{"m":"3D_MO","w":8830,"f":1.46},{"m":"3D_MO","w":8900,"f":1.195},{"m":"3D_MO","w":8970,"f":1.252},{"m":"3D_MO","w":9040,"f":1.271},{"m":"3D_MO","w":9124,"f":1.31},{"m":"3D_MO","w":9193,"f":1.348},{"m":"3D_MO","w":9249,"f":1.338},{"m":"3D_MO","w":9319,"f":1.233},{"m":"3D_MO","w":9389,"f":1.024},{"m":"3D_MO","w":9459,"f":0.814},{"m":"3D_MO","w":9529,"f":0.833},{"m":"3D_MO","w":9599,"f":0.71},{"m":"3D_MO","w":9669,"f":0.767},{"m":"3D_MO","w":9725,"f":0.776},{"m":"3D_MO","w":9795,"f":0.757},{"m":"3D_MO","w":9879,"f":0.767},{"m":"3D_MO","w":9948,"f":0.662},{"m":"3D_MO","w":10018,"f":0.662},{"m":"3D_MO","w":10088,"f":0.529},{"m":"3D_MO","w":10158,"f":0.595},{"m":"3D_MO","w":10228,"f":0.595},{"m":"3D_MO","w":10298,"f":0.548},{"m":"3D_MO","w":10368,"f":0.557},{"m":"3D_MO","w":10438,"f":0.5},{"m":"3D_MO","w":10508,"f":0.538},{"m":"3D_MO","w":10592,"f":0.567},{"m":"3D_MO","w":10661,"f":0.7},{"m":"3D_MO","w":10745,"f":0.624},{"m":"3D_MO","w":10815,"f":0.586},{"m":"3D_MO","w":10885,"f":0.671},{"m":"3D_MO","w":10969,"f":0.633},{"m":"3D_MO","w":11039,"f":0.462},{"m":"3D_MO","w":11123,"f":0.49},{"m":"3D_MO","w":11221,"f":0.538},{"m":"3D_MO","w":11305,"f":0.395},{"m":"3D_MO","w":11388,"f":0.433},{"m":"3D_MO","w":11472,"f":0.49},{"m":"3D_MO","w":11556,"f":0.643},{"m":"3D_MO","w":11640,"f":0.862},{"m":"3D_MO","w":11724,"f":0.938},{"m":"3D_MO","w":11808,"f":0.967},{"m":"3D_MO","w":11892,"f":0.871},{"m":"3D_MO","w":12000,"f":0.767}
]},
"layer":[
{"transform":[{"filter":"datum.m == '1D'"}],
 "mark":{"type":"line","strokeWidth":2,"clip":true},
 "encoding":{
  "x":{"field":"w","type":"quantitative","scale":{"domain":[3000,12000],"nice":false},
       "axis":{"orient":"bottom","values":[3200,3400,3600,3800,4200,4400,4600,4800,5200,5400,5600,5800,6200,6400,6600,6800,7200,7400,7600,7800,8200,8400,8600,8800,9200,9400,9600,9800,10200,10400,10600,10800,11200,11400,11600,11800],"labels":false,"domain":false,"grid":false,"ticks":true,"tickSize":2.5,"tickColor":"black","tickWidth":0.8,"title":null}},
  "y":{"field":"f","type":"quantitative","scale":{"domain":[0.02,2.9],"nice":false,"zero":false},
       "axis":{"orient":"left","values":[0.1,0.2,0.3,0.4,0.6,0.7,0.8,0.9,1.1,1.2,1.3,1.4,1.6,1.7,1.8,1.9,2.1,2.2,2.3,2.4,2.6,2.7,2.8],"labels":false,"domain":false,"grid":false,"ticks":true,"tickSize":2.5,"tickColor":"black","tickWidth":0.8,"title":null}},
  "color":{"field":"m","type":"nominal","scale":{"domain":["1D","3D_AA","3D_MI","3D_MO"],"range":["#000000","#0000ff","#0000ff","#0000ff"]},
      "legend":{"orient":"none","legendX":919,"legendY":7,"title":null,"symbolType":"stroke","symbolSize":1350,"symbolStrokeWidth":2,"labelFontSize":20,"labelColor":"black","labelFont":"DejaVu Sans","padding":6,"rowPadding":0,"fillColor":"rgba(255,255,255,0.8)","strokeColor":"#cccccc","cornerRadius":4,"labelOffset":17}},
  "strokeDash":{"field":"m","type":"nominal","scale":{"domain":["1D","3D_AA","3D_MI","3D_MO"],"range":[[1,0],[1,0],[7,3],[11,3.5,2.5,3.5]]},
      "legend":{"orient":"none","legendX":919,"legendY":7,"title":null,"symbolType":"stroke","symbolSize":1350,"symbolStrokeWidth":2,"labelFontSize":20,"labelColor":"black","labelFont":"DejaVu Sans","padding":6,"rowPadding":0,"fillColor":"rgba(255,255,255,0.8)","strokeColor":"#cccccc","cornerRadius":4,"labelOffset":17}}
 }},
{"transform":[{"filter":"datum.m != '1D'"}],
 "mark":{"type":"line","strokeWidth":2,"clip":true},
 "encoding":{
  "x":{"field":"w","type":"quantitative","scale":{"domain":[3000,12000],"nice":false},
       "axis":{"orient":"bottom","values":[3000,4000,5000,6000,7000,8000,9000,10000,11000,12000],"format":"d","labelFontSize":36,"labelFont":"DejaVu Sans","labelColor":"black","labelFlush":false,"labelOverlap":false,"labelPadding":3,"tickSize":4,"tickColor":"black","domainColor":"black","grid":false,"title":"λ [Å]","titleFontSize":36,"titleFont":"DejaVu Sans","titleFontStyle":"italic","titleFontWeight":"normal","titleColor":"black","titlePadding":5}},
  "y":{"field":"f","type":"quantitative","scale":{"domain":[0.02,2.9],"nice":false,"zero":false},
       "axis":{"orient":"left","values":[0.5,1.0,1.5,2.0,2.5],"format":".1f","labelFontSize":36,"labelFont":"DejaVu Sans","labelColor":"black","labelOverlap":false,"labelPadding":7,"tickSize":4,"tickColor":"black","domainColor":"black","grid":false,"title":"Flux [erg/s/Å] (10⁴⁰)","titleFontSize":36,"titleFont":"DejaVu Sans","titleFontWeight":"normal","titleColor":"black","titlePadding":6}},
  "color":{"field":"m","type":"nominal"},
  "strokeDash":{"field":"m","type":"nominal"}
 }}
],
"resolve":{"axis":{"x":"independent","y":"independent"}}
}
